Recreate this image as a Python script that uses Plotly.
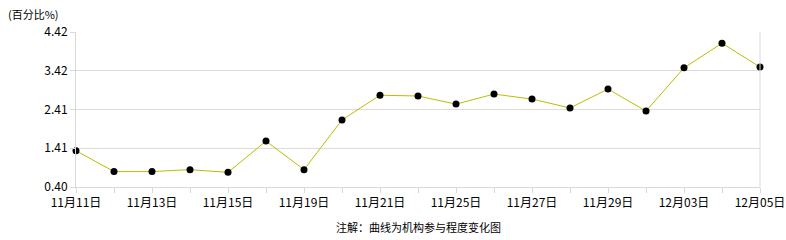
import plotly.graph_objects as go

dates = ["11月11日", "11月12日", "11月13日", "11月14日", "11月15日", "11月18日",
         "11月19日", "11月20日", "11月21日", "11月22日", "11月25日", "11月26日",
         "11月27日", "11月28日", "11月29日", "12月02日", "12月03日", "12月04日", "12月05日"]
values = [1.34, 0.80, 0.80, 0.85, 0.78, 1.59, 0.85, 2.14, 2.78, 2.76, 2.55, 2.81,
          2.68, 2.45, 2.94, 2.37, 3.49, 4.13, 3.51]
y_ticks = [0.40, 1.41, 2.41, 3.42, 4.42]
x_labels = [d if i % 2 == 0 else "" for i, d in enumerate(dates)]

font_family = "Noto Sans CJK SC, DejaVu Sans, sans-serif"

fig = go.Figure()
fig.add_trace(go.Scatter(
    x=list(range(len(dates))), y=values, mode="lines+markers",
    line=dict(color="#BDBD00", width=1),
    marker=dict(color="black", size=7),
    hoverinfo="skip", showlegend=False, cliponaxis=False,
))

fig.update_layout(
    width=786, height=240,
    margin=dict(l=76, r=26, t=31.5, b=52.7, autoexpand=False),
    paper_bgcolor="white", plot_bgcolor="white",
    font=dict(family=font_family, size=11, color="black"),
    xaxis=dict(
        range=[0, len(dates) - 1], automargin=False,
        tickmode="array", tickvals=list(range(len(dates))), ticktext=x_labels,
        showgrid=False, zeroline=False,
        showline=True, linecolor="#d9d9d9", linewidth=1, mirror=False,
        ticks="outside", ticklen=5, tickcolor="#d9d9d9",
        tickfont=dict(size=12),
    ),
    yaxis=dict(
        range=[y_ticks[0], y_ticks[-1]], automargin=False,
        tickmode="array", tickvals=y_ticks, ticktext=[f"{v:.2f}" for v in y_ticks],
        showgrid=True, gridcolor="#dcdcdc", gridwidth=1, zeroline=False,
        showline=True, linecolor="#d9d9d9", linewidth=1,
        ticks="outside", ticklen=5, tickcolor="#d9d9d9",
        tickfont=dict(size=12),
    ),
    shapes=[dict(type="line", xref="paper", yref="paper", x0=1, x1=1, y0=0, y1=1,
                 line=dict(color="#d9d9d9", width=1))],
    annotations=[
        dict(text="(百分比%)", xref="paper", yref="paper", x=-0.1, y=1.0,
             xanchor="left", yanchor="bottom", yshift=8, showarrow=False,
             xshift=-2, font=dict(size=11)),
        dict(text="注解：曲线为机构参与程度变化图", xref="paper", yref="paper",
             x=0.5, y=0, xanchor="center", yanchor="top", yshift=-30,
             showarrow=False, font=dict(size=11)),
    ],
)

fig.write_html("out.html")
